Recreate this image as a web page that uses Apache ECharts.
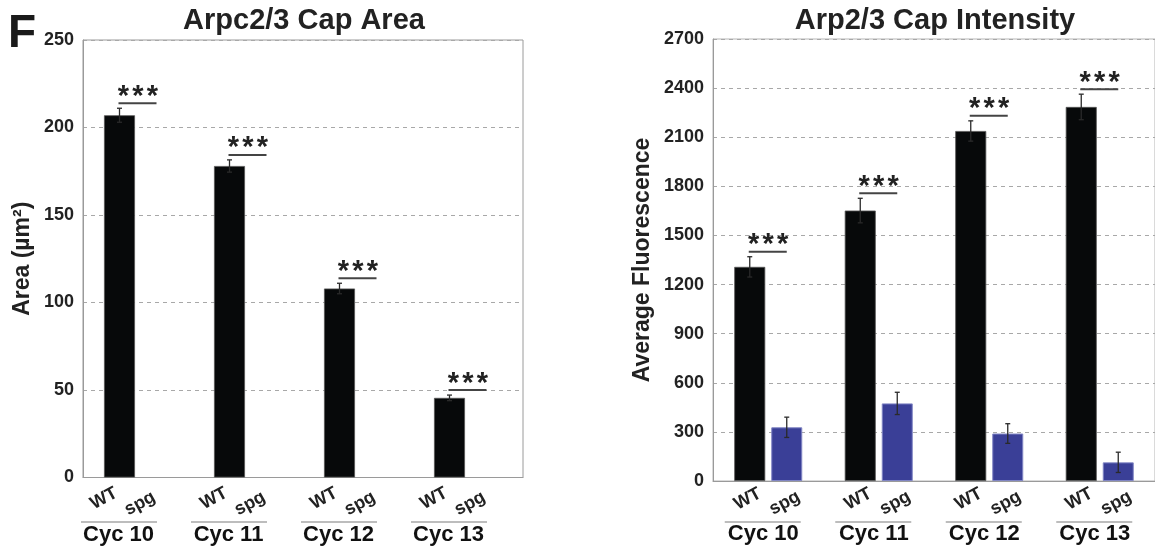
<!DOCTYPE html>
<html>
<head>
<meta charset="utf-8">
<script src="https://cdn.jsdelivr.net/npm/echarts@6/dist/echarts.min.js"></script>
<style>
html,body{margin:0;padding:0;background:#fff;}
#c{width:1155px;height:550px;}
</style>
</head>
<body>
<div id="c"></div>
<script>
// ---- data ----
const cycles = ['Cyc 10', 'Cyc 11', 'Cyc 12', 'Cyc 13'];
const subLabels = ['WT', 'spg'];
const areaWT = [207, 178, 108, 45.5];
const areaWTErr = [4, 3.5, 3, 1.6];
const areaSpg = [0, 0, 0, 0];
const intWT = [1308, 1652, 2138, 2285];
const intWTErr = [62, 75, 62, 78];
const intSpg = [328, 474, 290, 114];
const intSpgErr = [62, 68, 60, 62];
const sigMarks = ['***', '***', '***', '***'];
const areaAxis = { min: 0, max: 250, interval: 50 };
const intAxis = { min: 0, max: 2700, interval: 300 };

// ---- styles ----
const FONT = '"Liberation Sans", Arial, Helvetica, sans-serif';
const BW = 31, GAP = 6;
const off = (BW + GAP) / 2;

function errItem(sign) {
  return function (params, api) {
    const i = api.value(0), v = api.value(1), e = api.value(2);
    const c = api.coord([i, v]);
    const x = c[0] + sign * off;
    const top = api.coord([i, v + e])[1];
    const bot = api.coord([i, Math.max(v - e, 0)])[1];
    const st = { stroke: '#2a2a2a', lineWidth: 1.3 };
    return {
      type: 'group', children: [
        { type: 'line', shape: { x1: x, y1: top, x2: x, y2: bot }, style: st },
        { type: 'line', shape: { x1: x - 2.5, y1: top, x2: x + 2.5, y2: top }, style: st },
        { type: 'line', shape: { x1: x - 2.5, y1: bot, x2: x + 2.5, y2: bot }, style: st }
      ]
    };
  };
}

function sigItem(params, api) {
  const i = api.value(0), v = api.value(1);
  const c = api.coord([i, v]);
  const x = c[0] - off;
  const y = c[1];
  const kids = [
    { type: 'line', shape: { x1: x - 1, y1: y - 5, x2: x + 37, y2: y - 5 }, style: { stroke: '#444', lineWidth: 2 } }
  ];
  const s = String(sigMarks[i]);
  for (let k = 0; k < s.length; k++) {
    kids.push({ type: 'text', x: x + 4 + k * 14.5, y: y - 26,
      style: { text: s[k], font: 'bold 29px ' + FONT, fill: '#222', align: 'center', verticalAlign: 'top' } });
  }
  return { type: 'group', children: kids };
}

function subItem(cfg) {
  return function (params, api) {
    const i = api.value(0);
    const c = api.coord([i, 0]);
    const x = c[0], y = c[1];
    const rot = 0.5;
    return {
      type: 'group', children: [
        { type: 'text', x: x + cfg.wt[0], y: y + cfg.wt[1], rotation: rot,
          style: { text: subLabels[0], font: 'bold 18px ' + FONT, fill: '#222', align: 'center', verticalAlign: 'middle' } },
        { type: 'text', x: x + cfg.sp[0], y: y + cfg.sp[1], rotation: rot,
          style: { text: subLabels[1], font: 'bold 18px ' + FONT, fill: '#222', align: 'center', verticalAlign: 'middle' } },
        { type: 'line', shape: { x1: x + cfg.line[0], y1: 522, x2: x + cfg.line[1], y2: 522 },
          style: { stroke: '#bdbdbd', lineWidth: 2 } }
      ]
    };
  };
}

const idx = cycles.map((c, i) => i);

const yAxisBase = (g, a, name, gap) => ({
  gridIndex: g, type: 'value', min: a.min, max: a.max, interval: a.interval,
  name: name, nameLocation: 'middle', nameGap: gap,
  nameTextStyle: { fontFamily: FONT, fontWeight: 'bold', fontSize: 23, color: '#222' },
  axisLine: { show: true, lineStyle: { color: '#9a9a9a', width: 1 } },
  axisTick: { show: false },
  axisLabel: { fontFamily: FONT, fontWeight: 'bold', fontSize: 18, color: '#222', margin: 9,
    formatter: v => String(v) },
  splitLine: { show: true, lineStyle: { color: '#a8a8a8', type: [4, 4], width: 1 } }
});

const xAxisBase = (g, margin, shift) => ({
  gridIndex: g, type: 'category', data: cycles,
  axisLine: { show: true, lineStyle: { color: '#9a9a9a', width: 1 } },
  axisTick: { show: false },
  axisLabel: { fontFamily: FONT, fontWeight: 'bold', fontSize: 22, color: '#111', margin: margin,
    padding: shift < 0 ? [0, -2 * shift, 0, 0] : [0, 0, 0, 2 * shift] },
  splitLine: { show: false }
});

const option = {
  animation: false,
  backgroundColor: '#fff',
  title: [
    { text: 'Arpc2/3 Cap Area', left: 299, top: 1, textAlign: 'center',
      textStyle: { fontFamily: FONT, fontWeight: 'bold', fontSize: 29, color: '#222' } },
    { text: 'Arp2/3 Cap Intensity', left: 930, top: 1, textAlign: 'center',
      textStyle: { fontFamily: FONT, fontWeight: 'bold', fontSize: 29, color: '#222' } }
  ],
  graphic: [
    { type: 'text', left: 8, top: 11, style: { text: 'F', font: 'bold 46px ' + FONT, fill: '#1a1a1a' } }
  ],
  grid: [
    { left: 83, right: 632, top: 40, bottom: 72.5, show: true, borderColor: '#9a9a9a', borderWidth: 1, backgroundColor: 'transparent' },
    { left: 713, right: -2, top: 39, bottom: 69, show: true, borderColor: '#b5b5b5', borderWidth: 1, backgroundColor: 'transparent' }
  ],
  xAxis: [xAxisBase(0, 46, -19.5), xAxisBase(1, 42, -5)],
  yAxis: [yAxisBase(0, areaAxis, 'Area (µm²)', 49), yAxisBase(1, intAxis, 'Average Fluorescence', 59)],
  series: [
    { name: 'WT', type: 'bar', xAxisIndex: 0, yAxisIndex: 0, data: areaWT, barWidth: BW, barGap: (GAP / BW * 100) + '%',
      itemStyle: { color: '#07090a', borderColor: '#555', borderWidth: 0.8 } },
    { name: 'spg', type: 'bar', xAxisIndex: 0, yAxisIndex: 0, data: areaSpg, barWidth: BW,
      itemStyle: { color: '#3a3f97' } },
    { name: 'WT', type: 'bar', xAxisIndex: 1, yAxisIndex: 1, data: intWT, barWidth: BW, barGap: (GAP / BW * 100) + '%',
      itemStyle: { color: '#07090a', borderColor: '#555', borderWidth: 0.8 } },
    { name: 'spg', type: 'bar', xAxisIndex: 1, yAxisIndex: 1, data: intSpg, barWidth: BW,
      itemStyle: { color: '#3a3f97', borderColor: '#8085c4', borderWidth: 1 } },
    { type: 'custom', xAxisIndex: 0, yAxisIndex: 0, clip: false, z: 5, renderItem: errItem(-1),
      data: idx.map(i => [i, areaWT[i], areaWTErr[i]]) },
    { type: 'custom', xAxisIndex: 1, yAxisIndex: 1, clip: false, z: 5, renderItem: errItem(-1),
      data: idx.map(i => [i, intWT[i], intWTErr[i]]) },
    { type: 'custom', xAxisIndex: 1, yAxisIndex: 1, clip: false, z: 5, renderItem: errItem(1),
      data: idx.map(i => [i, intSpg[i], intSpgErr[i]]) },
    { type: 'custom', xAxisIndex: 0, yAxisIndex: 0, clip: false, z: 6, renderItem: sigItem,
      data: idx.map(i => [i, areaWT[i] + areaWTErr[i]]) },
    { type: 'custom', xAxisIndex: 1, yAxisIndex: 1, clip: false, z: 6, renderItem: sigItem,
      data: idx.map(i => [i, intWT[i] + intWTErr[i]]) },
    { type: 'custom', xAxisIndex: 0, yAxisIndex: 0, clip: false, z: 6,
      renderItem: subItem({ wt: [-34, 21], sp: [2, 26], line: [-57, 19] }),
      data: idx.map(i => [i, 0]) },
    { type: 'custom', xAxisIndex: 1, yAxisIndex: 1, clip: false, z: 6,
      renderItem: subItem({ wt: [-20.5, 18], sp: [16.5, 22], line: [-43.5, 32.5] }),
      data: idx.map(i => [i, 0]) }
  ]
};

const chart = echarts.init(document.getElementById('c'), null, { renderer: 'canvas' });
chart.setOption(option);
</script>
</body>
</html>
